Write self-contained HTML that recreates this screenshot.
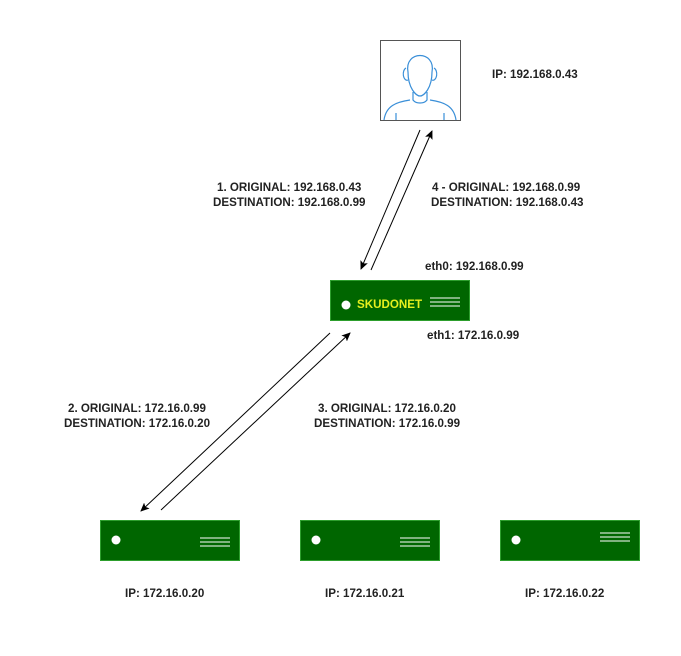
<!DOCTYPE html>
<html><head><style>
body{margin:0;background:#fff;width:681px;height:651px;overflow:hidden}
text{font-family:"Liberation Sans",sans-serif;font-size:11.6px;font-weight:bold;fill:#222}
</style></head><body>
<svg width="681" height="651" xmlns="http://www.w3.org/2000/svg">
<defs><marker id="a" markerWidth="10" markerHeight="10" refX="8" refY="4" orient="auto" markerUnits="userSpaceOnUse"><path d="M0,0 L9,4 L0,8 L2,4 Z" fill="#000"/></marker></defs>
<rect x="380.5" y="40.5" width="80" height="80" fill="#fff" stroke="#555"/>
<g fill="none" stroke="#3a8fd8" stroke-width="1.2">
<path d="M408,72 C404,50 436,50 432,72 C432,88 424,96 420,96 C416,96 408,88 408,72 Z"/>
<path d="M406,68 a3,5 0 0 0 2,12 M434,68 a3,5 0 0 1 -2,12"/>
<path d="M413,92 L413,100 C416,104 424,104 427,100 L427,92"/>
<path d="M384,120 C386,106 396,102 410,100 M456,120 C454,106 444,102 430,100"/>
<path d="M396,113 L396,120 M444,113 L444,120"/>
</g>
<text x="492" y="78">IP: 192.168.0.43</text>
<line x1="420" y1="130" x2="361" y2="269" stroke="#000" marker-end="url(#a)"/>
<line x1="371" y1="270" x2="432" y2="131" stroke="#000" marker-end="url(#a)"/>
<text x="217" y="191">1. ORIGINAL: 192.168.0.43</text>
<text x="213" y="206">DESTINATION: 192.168.0.99</text>
<text x="432" y="191">4 - ORIGINAL: 192.168.0.99</text>
<text x="431" y="206">DESTINATION: 192.168.0.43</text>
<text x="425" y="270">eth0: 192.168.0.99</text>
<text x="427" y="339">eth1: 172.16.0.99</text>
<rect x="330.5" y="280.5" width="139" height="40" fill="#006600" stroke="#2d9e2d"/>
<circle cx="346" cy="305" r="4.5" fill="#fff"/>
<text x="357" y="308" style="fill:#e6f01e">SKUDONET</text>
<path d="M430,298H460M430,302H460M430,306H460" stroke="#fff"/>
<line x1="330" y1="333" x2="141" y2="511" stroke="#000" marker-end="url(#a)"/>
<line x1="161" y1="510" x2="350" y2="333" stroke="#000" marker-end="url(#a)"/>
<text x="68" y="412">2. ORIGINAL: 172.16.0.99</text>
<text x="64" y="427">DESTINATION: 172.16.0.20</text>
<text x="318" y="412">3. ORIGINAL: 172.16.0.20</text>
<text x="314" y="427">DESTINATION: 172.16.0.99</text>
<rect x="100.5" y="520.5" width="139" height="40" fill="#006600" stroke="#2d9e2d"/>
<circle cx="116" cy="540" r="4.5" fill="#fff"/>
<path d="M200,538H230M200,542H230M200,546H230" stroke="#fff"/>
<rect x="300.5" y="520.5" width="139" height="40" fill="#006600" stroke="#2d9e2d"/>
<circle cx="316" cy="540" r="4.5" fill="#fff"/>
<path d="M400,538H430M400,542H430M400,546H430" stroke="#fff"/>
<rect x="500.5" y="520.5" width="139" height="40" fill="#006600" stroke="#2d9e2d"/>
<circle cx="516" cy="540" r="4.5" fill="#fff"/>
<path d="M600,533H630M600,537H630M600,541H630" stroke="#fff"/>
<text x="125" y="597">IP: 172.16.0.20</text>
<text x="325" y="597">IP: 172.16.0.21</text>
<text x="525" y="597">IP: 172.16.0.22</text>
</svg>
</body></html>
